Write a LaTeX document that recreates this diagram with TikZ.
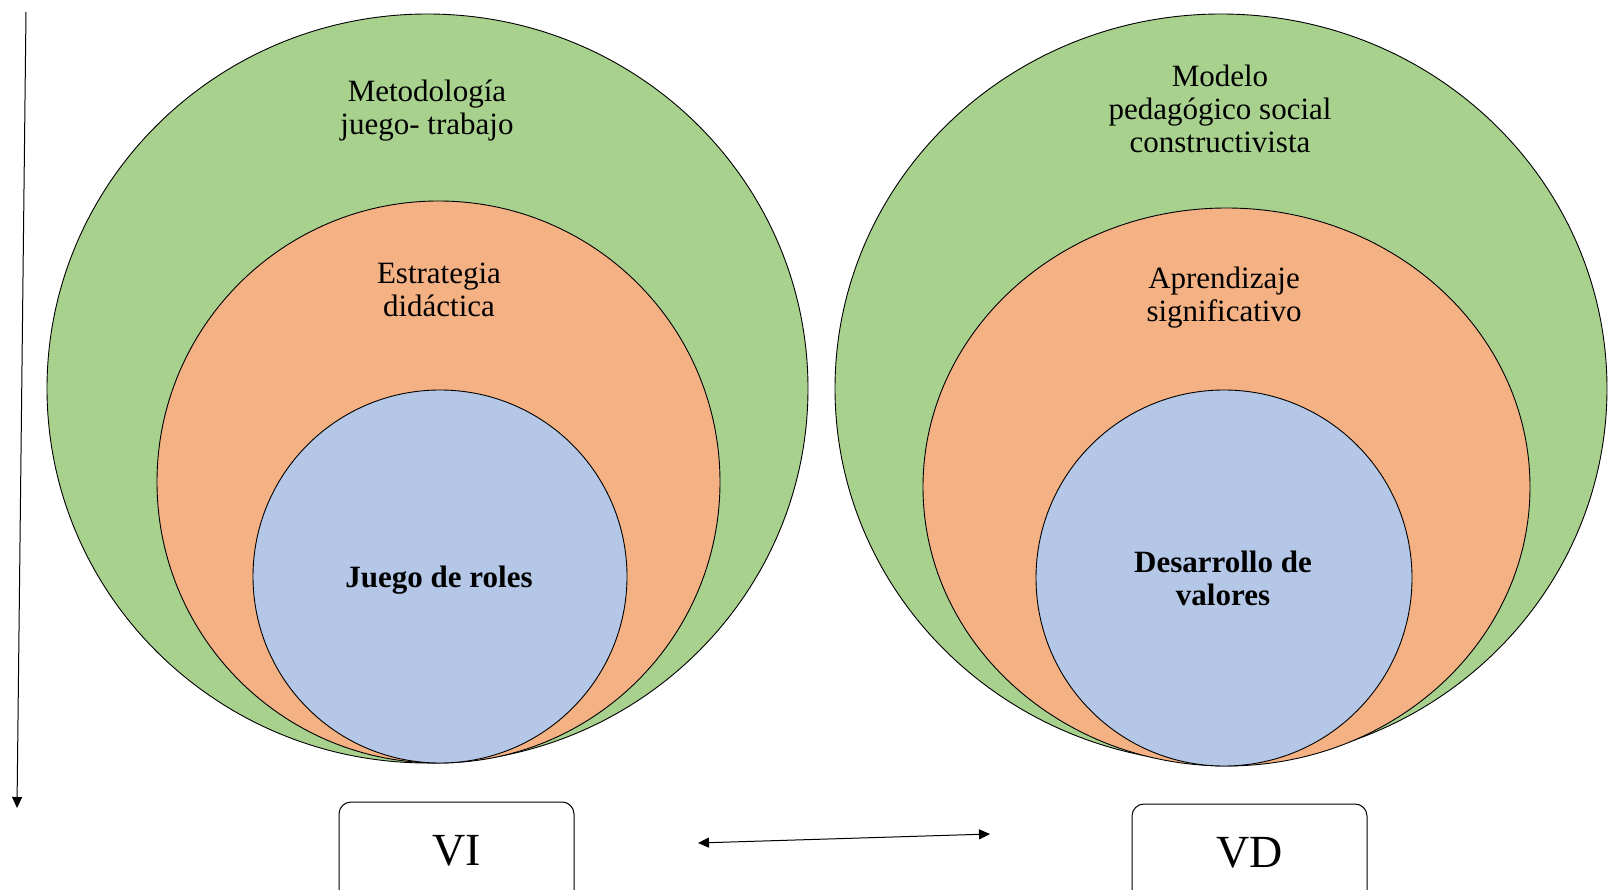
\documentclass[tikz,border=0pt]{standalone}
\usepackage{fontspec}
\setmainfont{Liberation Serif}
\usetikzlibrary{shapes.geometric,arrows.meta}
\definecolor{cgreen}{HTML}{A9D18E}
\definecolor{corange}{HTML}{F4B183}
\definecolor{cblue}{HTML}{B4C7E7}
\tikzset{
  ring/.style={ellipse,draw=black,line width=0.9pt,inner sep=0pt},
  lbl/.style={align=center,font=\fontsize{31}{33}\selectfont,inner sep=0pt},
  blbl/.style={lbl,font=\fontsize{31}{33}\selectfont\bfseries},
  varbox/.style={draw=black,line width=1pt,rounded corners=12pt,minimum width=235pt,minimum height=100pt,inner sep=0pt},
  tip/.style={-{Triangle[length=11pt,width=10pt]},line width=1pt},
  dtip/.style={{Triangle[length=11pt,width=10pt]}-{Triangle[length=11pt,width=10pt]},line width=1pt}
}
\begin{document}
\begin{tikzpicture}[x=1pt,y=-1pt]
\useasboundingbox[fill=white] (0,0) rectangle (1612,890);
% left set
\node[ring,fill=cgreen,minimum width=761pt,minimum height=749pt] (g1) at (427.5,388.5) {};
\node[ring,fill=corange,minimum width=563pt,minimum height=562pt] (o1) at (438.5,482) {};
\node[ring,fill=cblue,minimum width=374pt,minimum height=373pt] (b1) at (440,576.5) {};
\node[lbl] (t1) at (427,111) {Metodología\\juego- trabajo};
\node[lbl] (t2) at (439,290) {Estrategia\\didáctica};
\node[blbl] (t3) at (439,580) {Juego de roles};
% right set
\node[ring,fill=cgreen,minimum width=772pt,minimum height=749pt] (g2) at (1221,388.5) {};
\node[ring,fill=corange,minimum width=607pt,minimum height=558pt] (o2) at (1226.5,487) {};
\node[ring,fill=cblue,minimum width=376pt,minimum height=376pt] (b2) at (1224,578) {};
\node[lbl] (t4) at (1220,109) {Modelo\\pedagógico social\\constructivista};
\node[lbl] (t5) at (1224,298) {Aprendizaje\\significativo};
\node[blbl] (t6) at (1223,578) {Desarrollo de\\valores};
% boxes
\node[varbox,font=\fontsize{46}{48}\selectfont] (vi) at (456.5,852) {\raisebox{3pt}{VI}};
\node[varbox,font=\fontsize{46}{48}\selectfont] (vd) at (1249.5,854) {\raisebox{4pt}{VD}};
% arrows
\coordinate (a1) at (26,12);
\coordinate (a2) at (17,808);
\draw[tip] (a1) -- (a2);
\coordinate (d1) at (698,843);
\coordinate (d2) at (990,834);
\draw[dtip] (d1) -- (d2);
\end{tikzpicture}
\end{document}
